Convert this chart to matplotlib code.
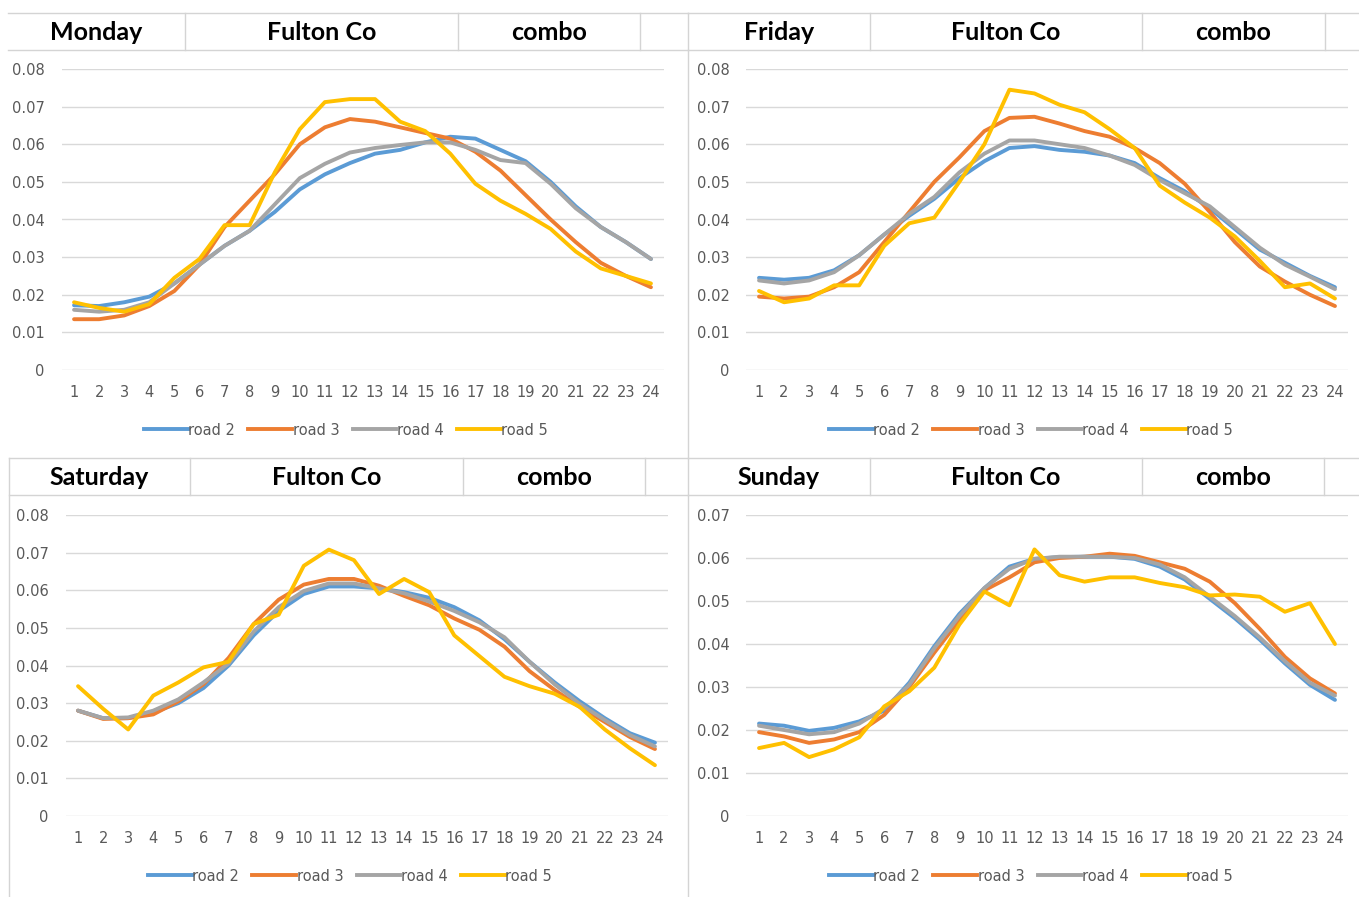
import matplotlib
matplotlib.use('Agg')
import matplotlib.pyplot as plt
from matplotlib.lines import Line2D

W, H = 1359, 897

hours = list(range(1, 25))
roads = ['road 2', 'road 3', 'road 4', 'road 5']
road_colors = ['#5B9BD5', '#ED7D31', '#A5A5A5', '#FFC000']

# Monday
mon_road2 = [0.0172, 0.017, 0.018, 0.0195, 0.023, 0.028, 0.033, 0.037, 0.042, 0.048, 0.052, 0.055,
             0.0575, 0.0585, 0.0605, 0.062, 0.0615, 0.0585, 0.0555, 0.050, 0.0435, 0.038, 0.034, 0.0295]
mon_road3 = [0.0135, 0.0135, 0.0145, 0.017, 0.021, 0.028, 0.038, 0.045, 0.052, 0.060, 0.0645, 0.0667,
             0.066, 0.0645, 0.063, 0.0615, 0.058, 0.053, 0.0465, 0.040, 0.034, 0.0285, 0.025, 0.022]
mon_road4 = [0.016, 0.0155, 0.016, 0.018, 0.023, 0.028, 0.033, 0.037, 0.044, 0.051, 0.0548, 0.0578,
             0.059, 0.0598, 0.0605, 0.0605, 0.0585, 0.0558, 0.055, 0.0495, 0.043, 0.038, 0.034, 0.0295]
mon_road5 = [0.018, 0.0165, 0.0155, 0.0175, 0.0245, 0.0295, 0.0385, 0.0385, 0.0525, 0.064, 0.0712, 0.072,
             0.072, 0.066, 0.0635, 0.0575, 0.0495, 0.045, 0.0415, 0.0375, 0.0315, 0.027, 0.025, 0.023]

# Friday
fri_road2 = [0.0245, 0.024, 0.0245, 0.0265, 0.0305, 0.036, 0.041, 0.0455, 0.051, 0.0555, 0.059, 0.0595,
             0.0585, 0.058, 0.057, 0.055, 0.051, 0.0475, 0.043, 0.0375, 0.032, 0.0285, 0.025, 0.022]
fri_road3 = [0.0195, 0.019, 0.0195, 0.022, 0.026, 0.034, 0.042, 0.050, 0.0565, 0.0635, 0.067, 0.0673,
             0.0655, 0.0635, 0.062, 0.059, 0.055, 0.0495, 0.042, 0.034, 0.0275, 0.0235, 0.020, 0.017]
fri_road4 = [0.0238, 0.023, 0.0238, 0.026, 0.0305, 0.036, 0.0415, 0.046, 0.0525, 0.0575, 0.061, 0.061,
             0.060, 0.059, 0.057, 0.0545, 0.0505, 0.047, 0.0435, 0.038, 0.0325, 0.028, 0.0248, 0.0215]
fri_road5 = [0.021, 0.018, 0.019, 0.0225, 0.0225, 0.033, 0.039, 0.0405, 0.050, 0.060, 0.0745, 0.0735,
             0.0705, 0.0685, 0.064, 0.059, 0.049, 0.0445, 0.0405, 0.0355, 0.029, 0.022, 0.023, 0.019]

# Saturday
sat_road2 = [0.028, 0.026, 0.026, 0.0275, 0.030, 0.034, 0.040, 0.048, 0.0545, 0.059, 0.061, 0.061,
             0.0605, 0.0595, 0.058, 0.0555, 0.052, 0.047, 0.041, 0.0355, 0.0305, 0.026, 0.022, 0.0195]
sat_road3 = [0.028, 0.0258, 0.026, 0.027, 0.0305, 0.035, 0.042, 0.051, 0.0575, 0.0615, 0.063, 0.063,
             0.0612, 0.0585, 0.056, 0.0525, 0.0495, 0.045, 0.0385, 0.0335, 0.029, 0.025, 0.021, 0.0178]
sat_road4 = [0.028, 0.026, 0.0262, 0.028, 0.031, 0.0355, 0.0405, 0.049, 0.0555, 0.0598, 0.0618, 0.0618,
             0.0605, 0.0592, 0.057, 0.0545, 0.0515, 0.0475, 0.041, 0.035, 0.0298, 0.0255, 0.0215, 0.0185]
sat_road5 = [0.0345, 0.0285, 0.023, 0.032, 0.0355, 0.0395, 0.041, 0.051, 0.0535, 0.0665, 0.0708, 0.068,
             0.059, 0.063, 0.0595, 0.048, 0.0425, 0.037, 0.0345, 0.0325, 0.029, 0.023, 0.018, 0.0135]

# Sunday
sun_road2 = [0.0215, 0.021, 0.0198, 0.0205, 0.022, 0.0245, 0.031, 0.0395, 0.047, 0.053, 0.058, 0.0598,
             0.0602, 0.0603, 0.0603, 0.0598, 0.058, 0.055, 0.0505, 0.046, 0.041, 0.0355, 0.0305, 0.027]
sun_road3 = [0.0195, 0.0185, 0.017, 0.0178, 0.0195, 0.0235, 0.030, 0.038, 0.0455, 0.0525, 0.0555, 0.059,
             0.060, 0.0603, 0.061, 0.0605, 0.059, 0.0575, 0.0545, 0.0495, 0.0435, 0.037, 0.032, 0.0285]
sun_road4 = [0.021, 0.020, 0.019, 0.0195, 0.0215, 0.025, 0.0305, 0.039, 0.0465, 0.053, 0.0575, 0.0598,
             0.0603, 0.0603, 0.0603, 0.060, 0.0585, 0.0555, 0.051, 0.0465, 0.0415, 0.036, 0.031, 0.028]
sun_road5 = [0.0158, 0.017, 0.0137, 0.0155, 0.0183, 0.0255, 0.029, 0.0345, 0.0445, 0.0522, 0.049, 0.062,
             0.056, 0.0545, 0.0555, 0.0555, 0.0542, 0.0532, 0.0513, 0.0515, 0.051, 0.0475, 0.0495, 0.040]

header_cells = ['Fulton Co', 'combo']

# layout in pixels: plot box (left, right, top, bottom), header row (top, bottom, cell borders), legend centre
panels = [
    dict(day='Monday', data=[mon_road2, mon_road3, mon_road4, mon_road5], ymax=0.08,
         box=(61.5, 663.5, 69, 370), head=(13, 50, [8, 185, 458, 640, 688]), leg=(346, 430)),
    dict(day='Friday', data=[fri_road2, fri_road3, fri_road4, fri_road5], ymax=0.08,
         box=(746.5, 1347.5, 69, 370), head=(13, 50, [688, 870, 1142, 1325, 1359]), leg=(1031, 430)),
    dict(day='Saturday', data=[sat_road2, sat_road3, sat_road4, sat_road5], ymax=0.08,
         box=(65.5, 667.5, 515, 816), head=(458, 495, [9, 190, 463, 645, 688]), leg=(350, 876)),
    dict(day='Sunday', data=[sun_road2, sun_road3, sun_road4, sun_road5], ymax=0.07,
         box=(746.5, 1347.5, 515, 816), head=(458, 495, [688, 870, 1142, 1324, 1359]), leg=(1031, 876)),
]

tick_font = ['Liberation Sans Narrow', 'DejaVu Sans']
head_font = ['Lato', 'DejaVu Sans']
border = '#D4D4D4'

fig = plt.figure(figsize=(W / 100, H / 100), dpi=100)
fig.patch.set_facecolor('white')

# pixel-coordinate background layer for the spreadsheet cells
bg = fig.add_axes([0, 0, 1, 1])
bg.set_xlim(0, W)
bg.set_ylim(H, 0)
bg.axis('off')

bg.plot([688, 688], [13, H], color=border, lw=1)
bg.plot([9, 9], [458, H], color=border, lw=1)

for p in panels:
    top, bot, xs = p['head']
    bg.plot([xs[0], xs[-1]], [top, top], color=border, lw=1)
    bg.plot([xs[0], xs[-1]], [bot, bot], color=border, lw=1)
    for x in xs[1:-1]:
        bg.plot([x, x], [top, bot], color=border, lw=1)
    labels = [p['day']] + header_cells
    for i, txt in enumerate(labels):
        cx = (xs[i] + xs[i + 1]) / 2
        bg.text(cx, (top + bot) / 2 + 1, txt, ha='center', va='center', fontsize=18,
                fontweight='bold', family=head_font, color='black')

    l, r, t, b = p['box']
    ax = fig.add_axes([l / W, 1 - b / H, (r - l) / W, (b - t) / H])
    for name, vals, c in zip(roads, p['data'], road_colors):
        ax.plot(hours, vals, color=c, lw=2.8, label=name, solid_joinstyle='round',
                solid_capstyle='round')
    ax.set_xlim(0.5, 24.5)
    ax.set_ylim(0, p['ymax'])
    yt = [i / 100 for i in range(int(round(p['ymax'] * 100)) + 1)]
    ax.set_yticks(yt)
    ax.set_yticklabels(['0'] + ['%.2f' % v for v in yt[1:]])
    ax.set_xticks(hours)
    ax.set_xticklabels([str(h) for h in hours])
    for s in ax.spines.values():
        s.set_visible(False)
    ax.yaxis.grid(True, color='#D9D9D9', lw=1)
    ax.set_axisbelow(True)
    ax.tick_params(axis='y', length=0, pad=12, labelsize=10.5, labelcolor='#595959')
    ax.tick_params(axis='x', length=0, pad=11, labelsize=10.5, labelcolor='#595959')
    for lab in ax.get_xticklabels() + ax.get_yticklabels():
        lab.set_family(tick_font)
    ax.patch.set_alpha(0)

    handles = [Line2D([], [], color=c, lw=2.8) for c in road_colors]
    lx, ly = p['leg']
    leg = fig.legend(handles, roads, loc='center', bbox_to_anchor=(lx / W, 1 - ly / H),
                     ncol=4, frameon=False, handlelength=3.0, handletextpad=0.05,
                     columnspacing=0.9, prop={'family': tick_font, 'size': 10.5})
    for t_ in leg.get_texts():
        t_.set_color('#595959')

fig.savefig('out.png', dpi=100, facecolor='white')
